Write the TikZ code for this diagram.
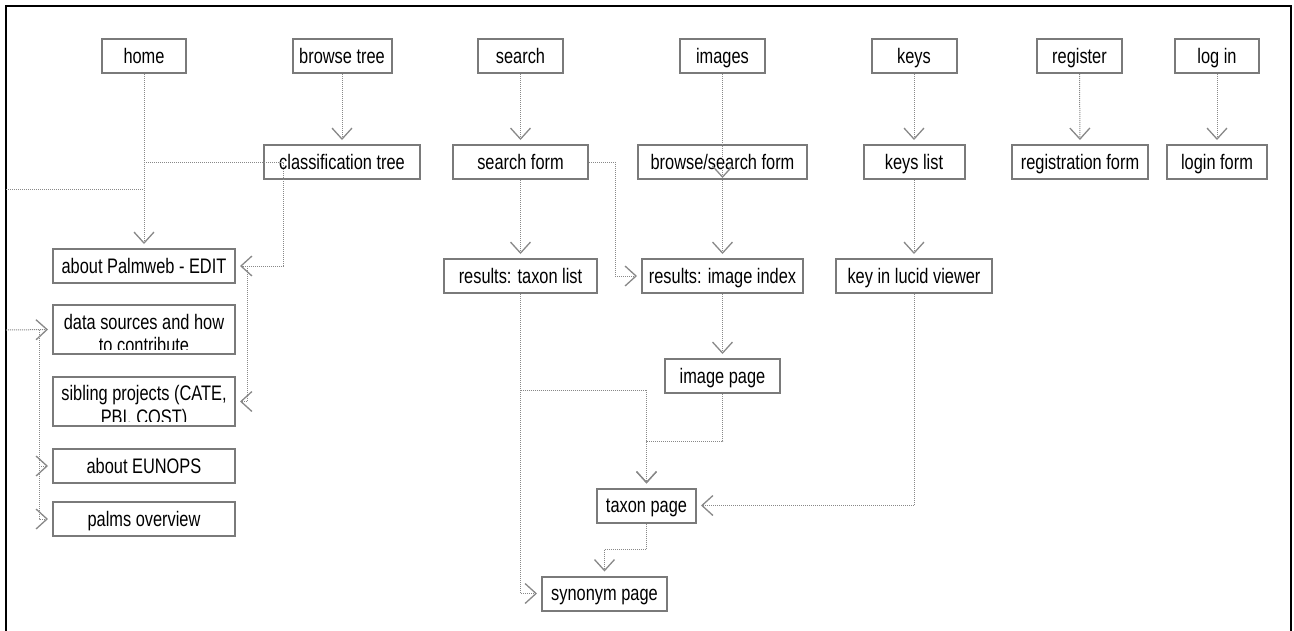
\documentclass[tikz,border=0pt]{standalone}
\usepackage{fontspec}
\setmainfont{Liberation Sans}[FakeStretch=0.78]
\usetikzlibrary{arrows.meta,calc}
\definecolor{boxgray}{HTML}{7A7A7A}
\definecolor{linegray}{HTML}{888888}
\tikzset{
  pg/.style={draw=boxgray, line width=2pt, minimum height=34pt, inner sep=0pt,
    text height=16.5pt, text depth=2pt, font=\fontsize{21pt}{24pt}\selectfont},
  tall/.style={pg, minimum height=49pt},
  txt/.style={inner sep=0pt, anchor=base, font=\fontsize{21pt}{24pt}\selectfont},
  conn/.style={draw=linegray, line width=1pt, dash pattern=on 1pt off 1pt},
  arr/.style={conn, -{Straight Barb[length=11pt,width=20pt,line width=1.3pt]}, shorten >=4pt},
  frame/.style={draw=black, line width=2.5pt}
}
\begin{document}
\begin{tikzpicture}[x=1pt,y=-1pt]
\useasboundingbox (0,0) rectangle (1294,630);
\draw[frame] (6,632) -- (6,6) -- (1291,6) -- (1291,632);

% top row
\node[pg, minimum width=84pt]  (home)  at (144,56)    {home};
\node[pg, minimum width=99pt]  (bt)    at (342,56)    {browse tree};
\node[pg, minimum width=85pt]  (srch)  at (520.5,56)  {search};
\node[pg, minimum width=85pt]  (img)   at (722.5,56)  {images};
\node[pg, minimum width=85pt]  (keys)  at (914,56)    {keys};
\node[pg, minimum width=85pt]  (reg)   at (1079.5,56) {register};
\node[pg, minimum width=84pt]  (login) at (1217,56)   {log in};

% second row
\node[pg, minimum width=156pt] (ct)    at (342,162)   {classification tree};
\node[pg, minimum width=135pt] (sf)    at (520.5,162) {search form};
\node[pg, minimum width=169pt] (bsf)   at (722.5,162) {browse/search form};
\node[pg, minimum width=101pt] (kl)    at (914,162)   {keys list};
\node[pg, minimum width=136pt] (rf)    at (1080,162)  {registration form};
\node[pg, minimum width=100pt] (lf)    at (1217,162)  {login form};

% third row
\node[pg, minimum width=182pt] (about) at (144,266)   {about Palmweb - EDIT};
\node[pg, minimum width=153pt] (tl)    at (520.5,276) {results: taxon list};
\node[pg, minimum width=161pt] (ii)    at (722.5,276) {results: image index};
\node[pg, minimum width=156pt] (kv)    at (914,276)   {key in lucid viewer};

% left column
\node[tall, minimum width=182pt] (ds)  at (144,329.5) {};
\begin{scope}
  \clip ($(ds.north west)+(2,2)$) rectangle ($(ds.south east)+(-2,-6)$);
  \node[txt] (ds1) at (144,329) {data sources and how};
  \node[txt] (ds2) at (144,352) {to contribute};
\end{scope}
\node[tall, minimum width=182pt] (sib) at (144,401.5) {};
\begin{scope}
  \clip ($(sib.north west)+(2,2)$) rectangle ($(sib.south east)+(-2,-6)$);
  \node[txt] (sib1) at (144,400) {sibling projects (CATE,};
  \node[txt] (sib2) at (144,424) {PBI, COST)};
\end{scope}
\node[pg, minimum width=182pt] (eun)   at (144,466)   {about EUNOPS};
\node[pg, minimum width=182pt] (palms) at (144,519)   {palms overview};

% lower middle
\node[pg, minimum width=115pt] (ip)    at (722.5,376) {image page};
\node[pg, minimum width=99pt]  (tp)    at (646.5,505.5) {taxon page};
\node[pg, minimum width=125pt] (syn)   at (604.5,593.5) {synonym page};

% connectors: home / classification
\draw[arr] (home.south) -- (about.north);
\draw[arr] (bt.south) -- (ct.north);
\coordinate (hct) at (home.south |- ct.west);
\coordinate (ctd) at (283,162);
\draw[arr] (hct) -- (ctd) |- (about.east);
\coordinate (sibd) at (247,266);
\draw[arr] (sibd) |- (sib.east);
\coordinate (fl1) at (6,189);
\coordinate (hl1) at (144,189);
\draw[conn] (fl1) -- (hl1);
\coordinate (fl2) at (6,330);
\coordinate (lv) at (39,330);
\draw[arr] (fl2) -- (ds.west);
\draw[arr] (lv) |- (eun.west);
\draw[arr] (lv) |- (palms.west);

% search column
\draw[arr] (srch.south) -- (sf.north);
\draw[arr] (sf.south) -- (tl.north);
\coordinate (sfe) at (615,162);
\draw[arr] (sf.east) -- (sfe) |- (ii.west);

% images column
\draw[arr, shorten >=2pt] (img.south) -- (bsf.south);
\draw[arr] (bsf.south) -- (ii.north);
\draw[arr] (ii.south) -- (ip.north);
\coordinate (ipb) at (722.5,441);
\draw[arr] (ip.south) -- (ipb) -| (tp.north);
\coordinate (tlb) at (520.5,390);
\draw[arr] (tlb) -| (tp.north);
\draw[arr] (tl.south) |- (syn.west);
\coordinate (tpb) at (646.5,549);
\draw[arr] (tp.south) -- (tpb) -| (syn.north);

% keys column
\draw[arr] (keys.south) -- (kl.north);
\draw[arr] (kl.south) -- (kv.north);
\draw[arr] (kv.south) |- (tp.east);

% register / login
\draw[arr] (reg.south) -- (rf.north);
\draw[arr] (login.south) -- (lf.north);
\end{tikzpicture}
\end{document}
